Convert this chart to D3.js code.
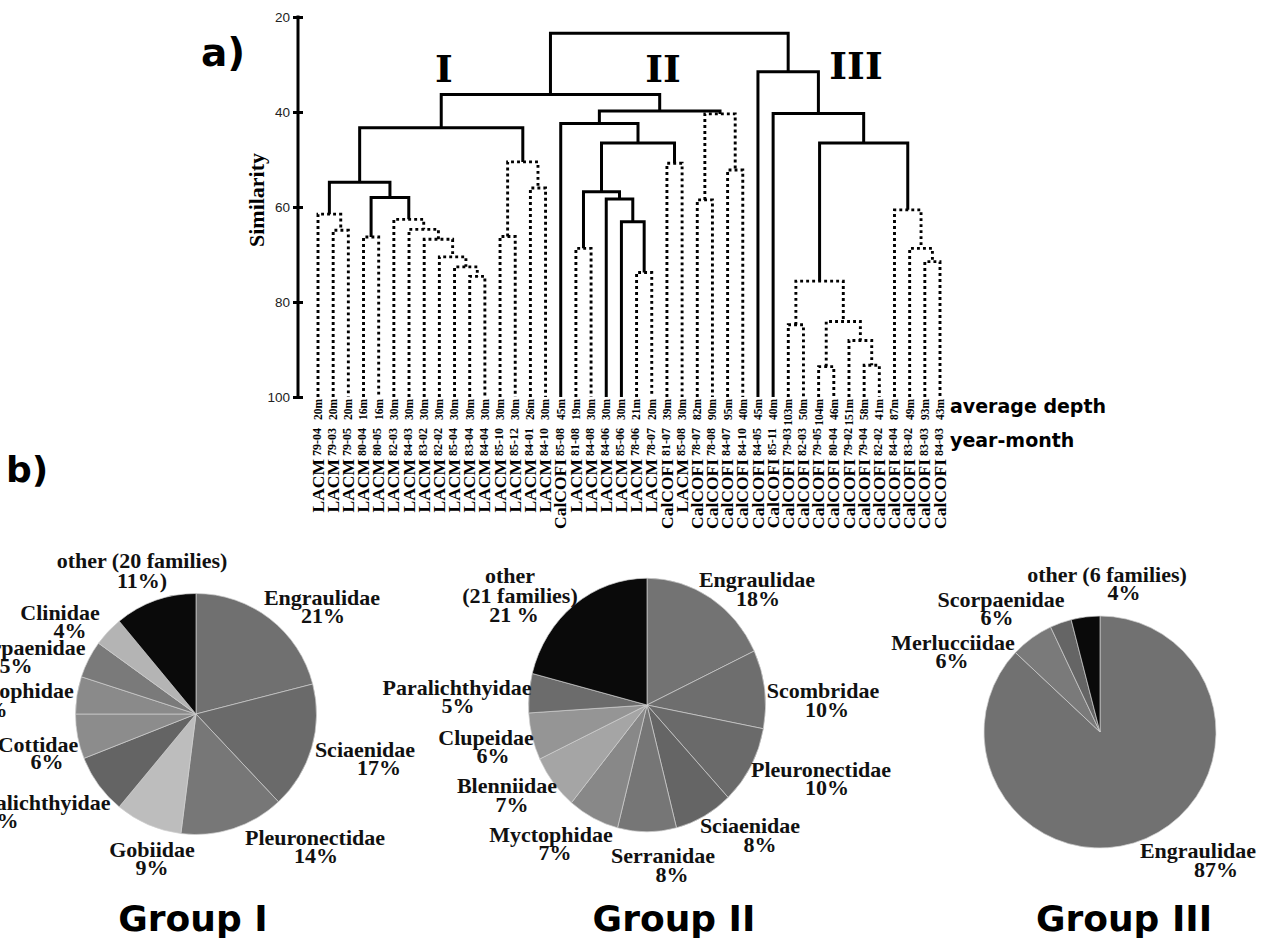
<!DOCTYPE html>
<html><head><meta charset="utf-8">
<script src="https://cdn.jsdelivr.net/npm/d3@7/dist/d3.min.js"></script>
<style>body{margin:0;background:#fff}svg{display:block}</style>
</head><body>
<svg id="c" width="1268" height="938"></svg>
<script>
// ---------------- DATA ----------------
const leafSites = ["LACM","LACM","LACM","LACM","LACM","LACM","LACM","LACM","LACM","LACM","LACM","LACM","LACM","LACM","LACM","LACM",
  "CalCOFI","LACM","LACM","LACM","LACM","LACM","LACM","CalCOFI","LACM","CalCOFI","CalCOFI","CalCOFI","CalCOFI",
  "CalCOFI","CalCOFI","CalCOFI","CalCOFI","CalCOFI","CalCOFI","CalCOFI","CalCOFI","CalCOFI","CalCOFI","CalCOFI","CalCOFI","CalCOFI"];
const leafMonths = ["79-04","79-03","79-05","80-04","80-05","82-03","84-03","83-02","82-02","85-04","83-04","84-04","85-10","85-12","84-01","84-10",
  "85-08","81-08","84-08","84-06","85-06","78-06","78-07","81-07","85-08","78-07","78-08","84-07","84-10",
  "84-05","85-11","79-03","82-03","79-05","80-04","79-02","79-04","82-02","84-04","83-02","83-03","84-03"];
const leafDepths = ["20m","20m","20m","16m","16m","30m","30m","30m","30m","30m","30m","30m","30m","30m","26m","30m",
  "45m","19m","30m","30m","30m","21m","20m","39m","30m","82m","90m","95m","40m",
  "45m","40m","103m","50m","104m","46m","151m","58m","41m","87m","49m","93m","43m"];
const simTicks = [20, 40, 60, 80, 100];
// merges: [id, left, right, similarity, significant(solid)]
const merges = [
  ["n1", 1, 2, 64.9, false], ["n2", 0, "n1", 61.5, false], ["n3", 3, 4, 66.3, false],
  ["n4", 10, 11, 74.6, false], ["n5", 9, "n4", 72.6, false], ["n6", 8, "n5", 70.5, false],
  ["n7", 7, "n6", 66.8, false], ["n8", 6, "n7", 64.7, false], ["n9", 5, "n8", 62.6, false],
  ["n10", "n3", "n9", 58.0, true], ["n11", "n2", "n10", 54.8, true],
  ["n12", 12, 13, 66.2, false], ["n13", 14, 15, 56.0, false], ["n14", "n12", "n13", 50.5, false],
  ["n15", "n11", "n14", 43.3, true],
  ["m1", 17, 18, 68.7, false], ["m2", 21, 22, 73.8, false], ["m3", 20, "m2", 63.1, true],
  ["m4", 19, "m3", 58.3, true], ["m5", "m1", "m4", 56.8, true], ["m6", 23, 24, 50.8, false],
  ["m7", "m5", "m6", 46.5, true], ["m8", 16, "m7", 42.4, true], ["m9", 25, 26, 58.5, false],
  ["m10", 27, 28, 52.2, false], ["m11", "m9", "m10", 40.4, false], ["m12", "m8", "m11", 39.8, true],
  ["k1", 31, 32, 84.8, false], ["k2", 33, 34, 93.6, false], ["k3", 36, 37, 93.3, false],
  ["k4", 35, "k3", 88.1, false], ["k5", "k2", "k4", 84.1, false], ["k6", "k1", "k5", 75.6, false],
  ["k7", 40, 41, 71.5, false], ["k8", 39, "k7", 68.7, false], ["k9", 38, "k8", 60.6, false],
  ["k10", "k6", "k9", 46.5, true], ["k11", 30, "k10", 40.3, true], ["k12", 29, "k11", 31.5, true],
  ["r1", "n15", "m12", 36.3, true], ["root", "r1", "k12", 23.4, true]
];
const groupNumerals = ["I", "II", "III"];
const groupTitles = ["Group I", "Group II", "Group III"];

const pie1Families = ["Engraulidae","Sciaenidae","Pleuronectidae","Gobiidae","Paralichthyidae","Cottidae","Myctophidae","Scorpaenidae","Clinidae","other (20 families)"];
const pie1Values = [21, 17, 14, 9, 8, 6, 5, 5, 4, 11];
const pie1Pct = ["21%","17%","14%","9%","8%","6%","5%","5%","4%","11%)"];

const pie2Families = ["Engraulidae","Scombridae","Pleuronectidae","Sciaenidae","Serranidae","Myctophidae","Blenniidae","Clupeidae","Paralichthyidae","other\n(21 families)"];
const pie2Values = [18, 10, 10, 8, 8, 7, 7, 6, 5, 21];
const pie2Pct = ["18%","10%","10%","8%","8%","7%","7%","6%","5%","21 %"];

const pie3Families = ["Engraulidae","Merlucciidae","Scorpaenidae","other (6 families)"];
const pie3Values = [87, 6, 3, 4];
const pie3Pct = ["87%","6%","6%","4%"];

// ---------------- STYLE / LAYOUT ----------------
const pie1Colors = ["#707070","#6a6a6a","#777777","#bdbdbd","#646464","#8c8c8c","#8a8a8a","#7a7a7a","#b4b4b4","#0a0a0a"];
const pie2Colors = ["#737373","#6e6e6e","#6a6a6a","#656565","#767676","#888888","#a5a5a5","#959595","#6c6c6c","#0a0a0a"];
const pie3Colors = ["#717171","#7a7a7a","#656565","#0a0a0a"];

const pie1LabelPos = [[[322,605],[323,623]],[[365,757],[379,775]],[[315,845],[316,863]],[[152,857],[152,875]],
  [[36,810],[2,828]],[[38,752],[47,769]],[[12,698],[-9,717]],[[22,655],[16,673]],[[60,620],[70,638]],[[142,568],[142,588]]];
const pie2LabelPos = [[[757,587],[758,606]],[[823,698],[827,717]],[[821,777],[827,795]],[[750,833],[760,852]],
  [[663,863],[672,882]],[[551,842],[555,860]],[[507,793],[512,812]],[[486,745],[493,763]],[[457,695],[458,713]],
  [[510,583],[520,603],[514,622]]];
const pie3LabelPos = [[[1198,858],[1216,877]],[[953,650],[952,668]],[[1001,607],[997,625]],[[1107,582],[1124,600]]];

const svg = d3.select("#c");
const serif = "'Liberation Serif','Times New Roman',serif";
const sans = "'DejaVu Sans',Verdana,sans-serif";

// ---------------- DENDROGRAM ----------------
const x = d3.scaleLinear().domain([0, leafSites.length - 1]).range([318, 940]);
const y = d3.scaleLinear().domain([20, 100]).range([17, 397]);

const nodes = {};
function pos(ref) {
  if (typeof ref === "number") return { xi: ref, s: 100 };
  return nodes[ref];
}
const dend = svg.append("g");
merges.forEach(([id, a, b, s, solid]) => {
  const A = pos(a), B = pos(b);
  nodes[id] = { xi: (A.xi + B.xi) / 2, s };
  const p = d3.path();
  p.moveTo(x(A.xi), y(A.s));
  p.lineTo(x(A.xi), y(s));
  p.lineTo(x(B.xi), y(s));
  p.lineTo(x(B.xi), y(B.s));
  dend.append("path").attr("d", p.toString())
    .attr("fill", "none").attr("stroke", "#000")
    .attr("stroke-width", solid ? 3 : 2.9)
    .attr("stroke-dasharray", solid ? null : "2.9,3.1")
    .attr("stroke-linejoin", "miter")
    .attr("stroke-linecap", "butt");
});

// axis
const axis = d3.axisLeft(y).tickValues(simTicks).tickSizeInner(5).tickSizeOuter(0).tickPadding(3);
const ag = svg.append("g").attr("transform", "translate(298,0)").call(axis);
ag.select(".domain").attr("stroke", "#000").attr("stroke-width", 3).attr("d", `M0,${y(20)-1.5}V${y(100)+1.5}`);
ag.selectAll(".tick line").attr("x1", 5).attr("x2", -5).attr("stroke", "#000").attr("stroke-width", 3);
ag.selectAll(".tick text").attr("font-family", "'Liberation Sans',Arial,sans-serif").attr("font-size", 13.5).attr("fill", "#222");

svg.append("text").attr("transform", "translate(264,200) rotate(-90)")
  .attr("text-anchor", "middle").attr("font-family", serif).attr("font-weight", "bold")
  .attr("font-size", 22).text("Similarity");

// group numerals
const numeralPos = [[444, 82], [663, 82], [856, 79]];
svg.selectAll(".gnum").data(groupNumerals).join("text").attr("class", "gnum")
  .attr("x", (d, i) => numeralPos[i][0]).attr("y", (d, i) => numeralPos[i][1])
  .attr("text-anchor", "middle").attr("font-family", "'DejaVu Serif',serif").attr("font-weight", "bold")
  .attr("font-size", 38).text(d => d);

// leaf labels
const leaves = svg.append("g").selectAll("g").data(leafSites).join("g");
leaves.append("text")
  .attr("transform", (d, i) => `translate(${x(i) + 3.9},399) rotate(-90)`)
  .attr("text-anchor", "end").attr("font-family", serif).attr("font-weight", "bold")
  .attr("font-size", 11.5).text((d, i) => leafDepths[i]);
const ym = leaves.append("text")
  .attr("transform", (d, i) => `translate(${x(i) + 5.6},428) rotate(-90)`)
  .attr("text-anchor", "end").attr("font-family", serif).attr("font-weight", "bold");
ym.append("tspan").attr("font-size", 17.5).text(d => d);
ym.append("tspan").attr("font-size", 12).attr("dy", -2.8).text((d, i) => "\u00a0" + leafMonths[i]);

svg.append("text").attr("x", 950).attr("y", 413).attr("font-family", sans).attr("font-weight", "bold")
  .attr("font-size", 19).text("average depth");
svg.append("text").attr("x", 950).attr("y", 447).attr("font-family", sans).attr("font-weight", "bold")
  .attr("font-size", 19).text("year-month");

svg.append("text").attr("x", 201).attr("y", 66).attr("font-family", sans).attr("font-weight", "bold")
  .attr("font-size", 39).text("a)");
svg.append("text").attr("x", 6).attr("y", 482).attr("font-family", sans).attr("font-weight", "bold")
  .attr("font-size", 36).text("b)");

// ---------------- PIES ----------------
function drawPie(cx, cy, r, sy, values, colors, families, pcts, labelPos) {
  const pie = d3.pie().sort(null).value(d => d);
  const arc = d3.arc().innerRadius(0).outerRadius(r);
  const g = svg.append("g").attr("transform", `translate(${cx},${cy}) scale(1,${sy})`);
  g.selectAll("path").data(pie(values)).join("path")
    .attr("d", arc).attr("fill", (d, i) => colors[i])
    .attr("stroke", "#cfcfcf").attr("stroke-width", 0.7).attr("vector-effect", "non-scaling-stroke");
  families.forEach((f, i) => {
    const lines = f.split("\n").concat([pcts[i]]);
    lines.forEach((t, j) => {
      svg.append("text").attr("x", labelPos[i][j][0]).attr("y", labelPos[i][j][1])
        .attr("text-anchor", "middle").attr("font-family", serif).attr("font-weight", "bold")
        .attr("font-size", 22).attr("fill", "#111").text(t);
    });
  });
}
drawPie(196, 714, 120.5, 1, pie1Values, pie1Colors, pie1Families, pie1Pct, pie1LabelPos);
drawPie(647, 705, 118.5, 1.07, pie2Values, pie2Colors, pie2Families, pie2Pct, pie2LabelPos);
drawPie(1100, 732, 116, 1, pie3Values, pie3Colors, pie3Families, pie3Pct, pie3LabelPos);

const titleX = [193, 674, 1124];
svg.selectAll(".gt").data(groupTitles).join("text").attr("class", "gt")
  .attr("x", (d, i) => titleX[i]).attr("y", 931).attr("text-anchor", "middle")
  .attr("font-family", sans).attr("font-weight", "bold").attr("font-size", 36).text(d => d);
</script>
</body></html>
